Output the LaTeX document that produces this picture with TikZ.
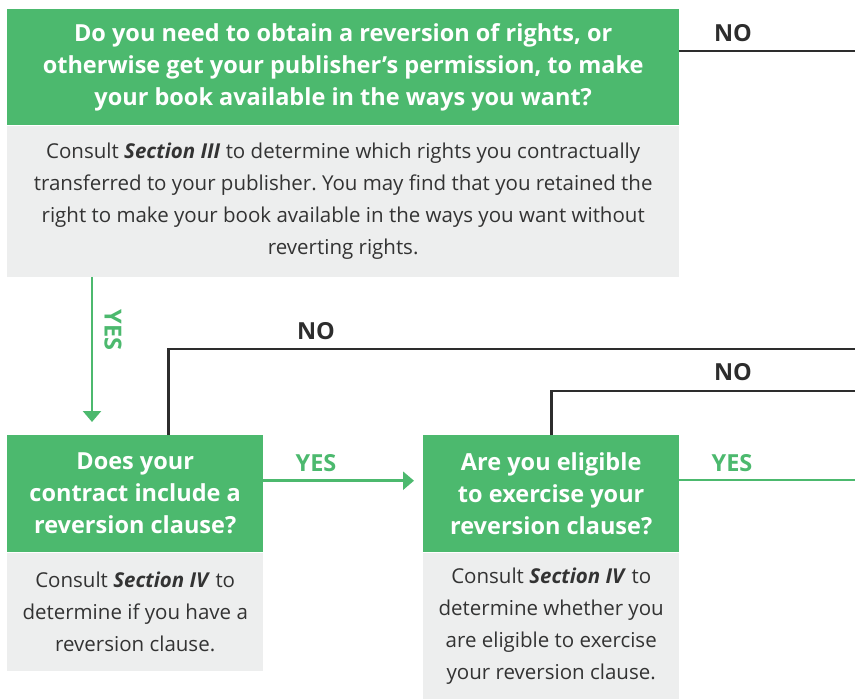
\documentclass[tikz,border=0pt]{standalone}
\usepackage{fontspec}
\setmainfont{Open Sans}
\usetikzlibrary{arrows.meta,positioning,calc}
\definecolor{flowgreen}{RGB}{76,185,110}
\definecolor{flowgray}{RGB}{237,238,238}
\definecolor{flowdark}{RGB}{45,45,45}
\definecolor{flowtext}{RGB}{51,51,51}
\frenchspacing

\begin{document}
\begin{tikzpicture}[x=1pt,y=-1pt,
    question/.style={fill=flowgreen, text=white, font=\fontsize{23.5}{32}\selectfont\bfseries,
                     align=center, inner sep=0pt, anchor=north west},
    info/.style={fill=flowgray, text=flowtext, font=\fontsize{20.5}{32}\selectfont,
                 align=center, inner sep=0pt, anchor=north},
    noline/.style={draw=flowdark, line width=2.6pt},
    yesline/.style={draw=flowgreen, line width=2.5pt},
    yesarrow/.style={yesline, -{Triangle[width=18pt,length=11pt]}},
    nolabel/.style={text=flowdark, font=\fontsize{23.5}{26}\selectfont\bfseries},
    yeslabel/.style={text=flowgreen, font=\fontsize{23.5}{26}\selectfont\bfseries}]

    % Fix the page to the size of the reference
    \useasboundingbox (0,0) rectangle (855,699);

    % Where the NO / YES lines leave the picture
    \coordinate (exit1) at (855,51);
    \coordinate (exit2) at (855,349);
    \coordinate (exit3) at (855,391);
    \coordinate (exit4) at (855,480);

    % First question and its note
    \node[question, minimum width=672pt, minimum height=116pt] (q1) at (7,9)
        {Do you need to obtain a reversion of rights, or\\
         otherwise get your publisher’s permission, to make\\
         your book available in the ways you want?};
    \node[info, minimum width=672pt, minimum height=151pt] (n1) at (q1.south)
        {Consult \textbf{\textit{Section III}} to determine which rights you contractually\\
         transferred to your publisher. You may find that you retained the\\
         right to make your book available in the ways you want without\\
         reverting rights.};

    % Second question
    \node[question, minimum width=256pt, minimum height=117pt] (q2) at (7,435)
        {Does your\\ contract include a\\ reversion clause?};
    \node[info, minimum width=256pt, minimum height=118pt] (n2) at (q2.south)
        {Consult \textbf{\textit{Section IV}} to\\ determine if you have a\\ reversion clause.};

    % Third question
    \node[question, minimum width=256pt, minimum height=117pt] (q3) at (423,435)
        {Are you eligible\\ to exercise your\\ reversion clause?};
    \node[info, minimum width=256pt, minimum height=147pt] (n3) at (q3.south)
        {Consult \textbf{\textit{Section IV}} to\\ determine whether you\\
         are eligible to exercise\\ your reversion clause.};

    % NO lines
    \draw[noline] (q1.east |- exit1) -- (exit1);
    \draw[noline] ([xshift=33pt]q2.north) |- (exit2);
    \draw[noline] (q3.north) |- (exit3);

    % YES lines
    \draw[yesarrow] ([xshift=85pt]n1.south west) -- ([xshift=85pt,yshift=13pt]q2.north west);
    \draw[yesarrow] ([yshift=13pt]q2.east) -- ([xshift=-9pt,yshift=13pt]q3.west);
    \draw[yesline] (q3.east |- exit4) -- (exit4);

    % Labels
    \node[nolabel] (no1) at (733,33) {NO};
    \node[nolabel] (no2) at (316,331) {NO};
    \node[nolabel] (no3) at (733,372) {NO};
    \node[yeslabel, rotate=-90] (yes1) at (113,330) {YES};
    \node[yeslabel] (yes2) at (316,463) {YES};
    \node[yeslabel] (yes3) at (732,463) {YES};
\end{tikzpicture}
\end{document}
